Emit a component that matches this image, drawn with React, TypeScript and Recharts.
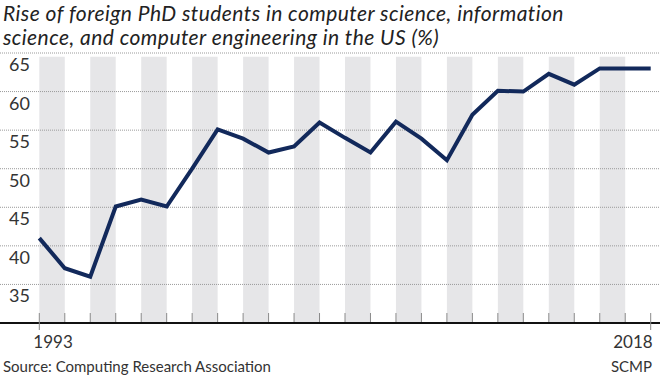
import { ComposedChart, Line, XAxis, YAxis, ReferenceArea, ReferenceLine } from 'recharts'

// academic years, first labelled 1993 and last 2018
const SEASONS = [
  '1993-94', '1994-95', '1995-96', '1996-97', '1997-98', '1998-99', '1999-00',
  '2000-01', '2001-02', '2002-03', '2003-04', '2004-05', '2005-06', '2006-07',
  '2007-08', '2008-09', '2009-10', '2010-11', '2011-12', '2012-13', '2013-14',
  '2014-15', '2015-16', '2016-17', '2017-18',
]
const FOREIGN_SHARE = [
  41, 37.1, 36, 45.1, 46, 45.1, 50, 55.1, 53.9, 52.1, 52.9, 56, 54,
  52.1, 56.1, 53.9, 51.1, 57, 60.1, 60, 62.3, 60.9, 63, 63, 63,
]
const Y_TICKS = [35, 40, 45, 50, 55, 60, 65]
const X_LABELS: Record<number, string> = { 0: '1993', 24: '2018' }
const TITLE_LINES = [
  'Rise of foreign PhD students in computer science, information',
  'science, and computer engineering in the US (%)',
]

const NAVY = '#12295b'
const FONT = 'Lato, "Open Sans", sans-serif'

const data = SEASONS.map((s, i) => ({ i, season: s, value: FOREIGN_SHARE[i] }))
const bands = SEASONS.map((_, i) => i).filter((i) => i % 2 === 0 && i < SEASONS.length - 1)

function GridLabel({ viewBox, value }: any) {
  return (
    <text x={9} y={viewBox.y + 18} fontSize={18} fill="#333" fontFamily={FONT}>
      {value}
    </text>
  )
}

function XTick({ x, y, payload }: any) {
  const idx = payload.value as number
  const label = X_LABELS[idx]
  const last = idx === SEASONS.length - 1
  return (
    <g>
      <line x1={x} x2={x} y1={y - 10} y2={label ? y + 7 : y - 1} stroke="#8a8a8a" strokeWidth={1} />
      {label && (
        <text
          x={last ? x + 2 : x - 6}
          y={y + 25}
          fontSize={17}
          fill="#333"
          fontFamily={FONT}
          textAnchor={last ? 'end' : 'start'}
        >
          {label}
        </text>
      )}
    </g>
  )
}

export default function App() {
  return (
    <div style={{ position: 'absolute', left: 0, top: 0, width: 660, height: 378, background: '#fff', fontFamily: FONT }}>
      {TITLE_LINES.map((line, k) => (
        <div
          key={k}
          style={{
            position: 'absolute',
            left: 3,
            top: 2 + k * 24,
            height: 22,
            fontSize: 21,
            lineHeight: '22px',
            letterSpacing: 0.45,
            fontStyle: 'italic',
            color: '#222',
            whiteSpace: 'nowrap',
          }}
        >
          {line}
        </div>
      ))}
      <ComposedChart width={660} height={378} data={data} margin={{ top: 53, right: 0, bottom: 25, left: 0 }}>
        {bands.map((b) => (
          <ReferenceArea key={b} x1={b} x2={b + 1} y1={30} y2={64.5} fill="#e6e6e8" fillOpacity={1} stroke="none" />
        ))}
        {Y_TICKS.map((t) => (
          <ReferenceLine
            key={t}
            y={t}
            stroke="#9a9a9a"
            strokeDasharray="1 1"
            label={<GridLabel value={t} />}
          />
        ))}
        <XAxis
          type="number"
          dataKey="i"
          domain={[-1.543, 24.365]}
          ticks={data.map((d) => d.i)}
          interval={0}
          height={30}
          tickSize={0}
          tickMargin={0}
          axisLine={{ stroke: '#111', strokeWidth: 2 }}
          tickLine={false}
          tick={<XTick />}
        />
        <YAxis type="number" domain={[30, 65]} ticks={Y_TICKS} hide />
        <Line
          type="linear"
          dataKey="value"
          stroke={NAVY}
          strokeWidth={4}
          dot={false}
          strokeLinejoin="miter"
          isAnimationActive={false}
        />
      </ComposedChart>
      <div style={{ position: 'absolute', left: 3, top: 357, fontSize: 15, color: '#333' }}>
        Source: Computing Research Association
      </div>
      <div style={{ position: 'absolute', right: 8, top: 357, fontSize: 15, color: '#333' }}>SCMP</div>
    </div>
  )
}
